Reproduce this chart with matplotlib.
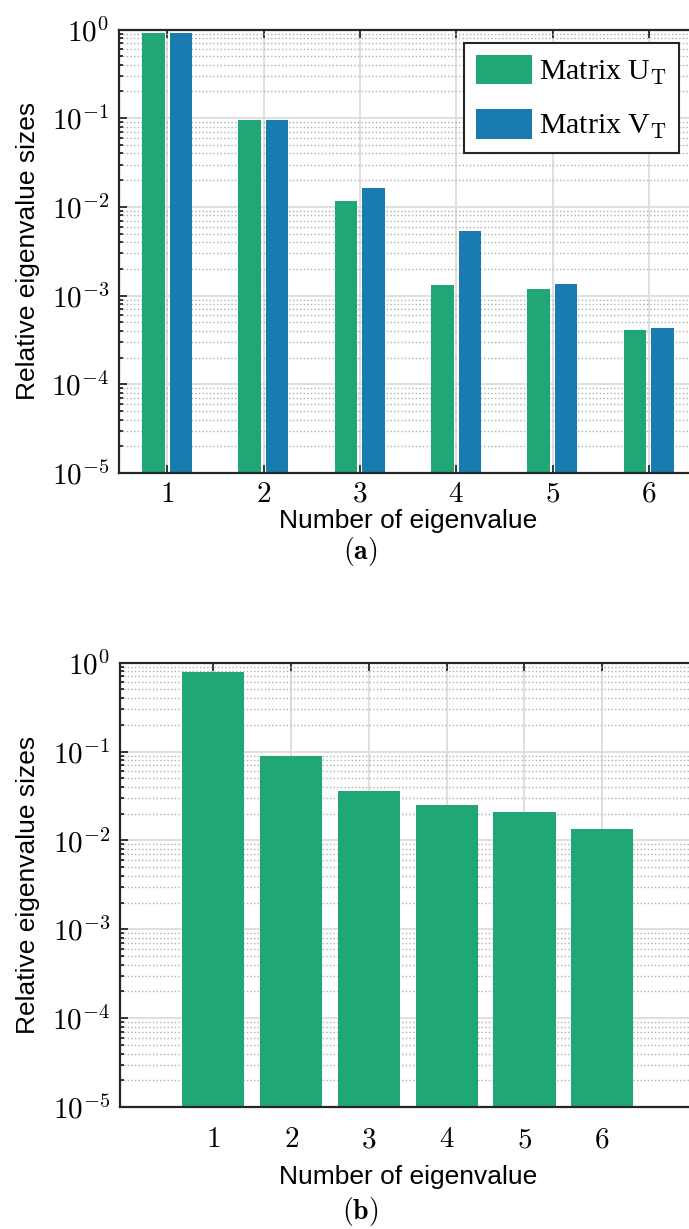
import matplotlib
matplotlib.use("Agg")
import matplotlib.pyplot as plt
import numpy as np
from matplotlib.ticker import LogLocator, NullFormatter, FuncFormatter, FixedLocator

plt.rcParams['mathtext.fontset'] = 'cm'
plt.rcParams['font.family'] = ['Liberation Sans', 'DejaVu Sans']

# data
eig_num = [1, 2, 3, 4, 5, 6]
eig_labels = ['1', '2', '3', '4', '5', '6']
u_t = [0.91, 0.096, 0.0115, 0.00131, 0.00118, 0.000399]
v_t = [0.91, 0.096, 0.0163, 0.0053, 0.00134, 0.000417]
single = [0.79, 0.089, 0.036, 0.025, 0.021, 0.0135]
legend_names = [r'Matrix U$_\mathrm{T}$', r'Matrix V$_\mathrm{T}$']

green = '#21a675'
blue = '#1a7bb1'
y_floor = 1e-5

W, H = 689, 1229
fig = plt.figure(figsize=(W / 100, H / 100), dpi=100)


def px_axes(l, t, r, b):
    return fig.add_axes([l / W, 1 - b / H, (r - l) / W, (b - t) / H])


def style(ax, xlim, pad):
    ax.set_yscale('log')
    ax.set_ylim(y_floor, 1)
    ax.set_xlim(*xlim)
    ax.set_axisbelow(True)
    ax.yaxis.set_major_locator(LogLocator(base=10, numticks=10))
    ax.yaxis.set_minor_locator(LogLocator(base=10, subs=np.arange(2, 10), numticks=20))
    ax.yaxis.set_major_formatter(FuncFormatter(lambda v, p: r'$10^{%d}$' % round(np.log10(v))))
    ax.yaxis.set_minor_formatter(NullFormatter())
    ax.xaxis.set_major_locator(FixedLocator(eig_num))
    ax.set_xticklabels(['$%s$' % s for s in eig_labels])
    ax.grid(True, which='major', color='#dcdcdc', lw=1.3, ls='-')
    ax.grid(True, which='minor', axis='y', color='#b0b0b0', lw=1.0, ls=(0, (1, 1.6)))
    ax.tick_params(which='both', direction='in', top=True, right=False,
                   labelsize=21, color='#262626', width=1.3)
    ax.tick_params(which='major', length=6)
    ax.tick_params(which='minor', length=3)
    ax.tick_params(axis='x', pad=pad)
    ax.tick_params(axis='y', pad=7)
    for s in ax.spines.values():
        s.set_linewidth(1.6)
        s.set_color('#262626')
    ax.set_ylabel('Relative eigenvalue sizes', fontsize=19)
    ax.set_xlabel('Number of eigenvalue', fontsize=19)


# panel (a)
ax1 = px_axes(119, 29.5, 697, 473)
x = np.array(eig_num)
ax1.bar(x - 0.145, u_t, width=0.235, bottom=y_floor, color=green, label=legend_names[0])
ax1.bar(x + 0.142, v_t, width=0.235, bottom=y_floor, color=blue, label=legend_names[1])
style(ax1, (0.5, 6.5), 5)
ax1.yaxis.set_label_coords((40 - 119) / 578, 0.5)
ax1.xaxis.set_label_coords(0.5, (473 - 509) / 443.5)
leg = ax1.legend(loc='upper right', bbox_to_anchor=(679 / W, 1 - 42.7 / H),
                 bbox_transform=fig.transFigure, frameon=True,
                 fancybox=False, framealpha=1, edgecolor='#262626',
                 handlelength=1.85, handleheight=1.15, handletextpad=0.25,
                 borderpad=0.4, labelspacing=0.75, borderaxespad=0,
                 prop={'family': 'Liberation Serif', 'size': 21.5})
leg.get_frame().set_linewidth(1.5)

# panel (b)
ax2 = px_axes(120, 662.7, 695.5, 1107)
ax2.bar(eig_num, single, width=0.8, bottom=y_floor, color=green)
style(ax2, (-0.2, 7.2), 13)
ax2.yaxis.set_label_coords((40 - 120) / 575.5, 0.5)
ax2.xaxis.set_label_coords(0.5, (1107 - 1165) / 444.3)

fig.text(360 / W, 1 - 551 / H, r'$(\mathbf{a})$', ha='center', va='center', fontsize=20)
fig.text(360 / W, 1 - 1212 / H, r'$(\mathbf{b})$', ha='center', va='center', fontsize=20)

fig.savefig('out.png', dpi=100)
